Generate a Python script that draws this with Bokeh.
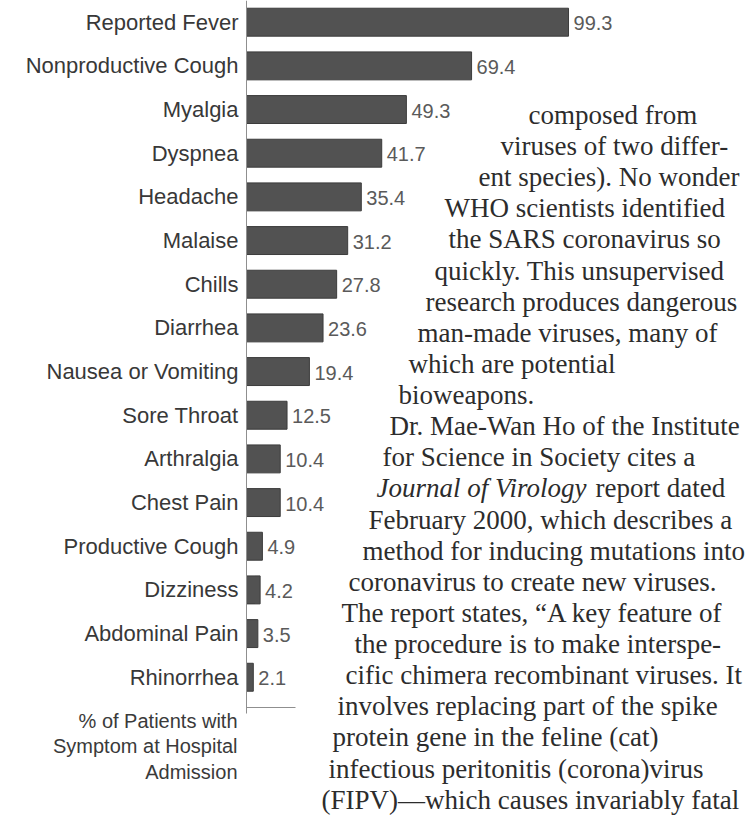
from bokeh.plotting import figure
from bokeh.models import ColumnDataSource, LinearAxis, FixedTicker, Range1d, Label
from bokeh.embed import file_html
from bokeh.resources import INLINE
from bokeh.core.properties import value

# ---------------- data ----------------
categories = ["Reported Fever", "Nonproductive Cough", "Myalgia", "Dyspnea",
              "Headache", "Malaise", "Chills", "Diarrhea", "Nausea or Vomiting",
              "Sore Throat", "Arthralgia", "Chest Pain", "Productive Cough",
              "Dizziness", "Abdominal Pain", "Rhinorrhea"]
percent = [99.3, 69.4, 49.3, 41.7, 35.4, 31.2, 27.8, 23.6, 19.4,
           12.5, 10.4, 10.4, 4.9, 4.2, 3.5, 2.1]
axis_note = ["% of Patients with", "Symptom at Hospital", "Admission"]

body_lines = [
    "composed from",
    "viruses of two differ-",
    "ent species). No wonder",
    "WHO scientists identified",
    "the SARS coronavirus so",
    "quickly. This unsupervised",
    "research produces dangerous",
    "man-made viruses, many of",
    "which are potential",
    "bioweapons.",
    "Dr. Mae-Wan Ho of the Institute",
    "for Science in Society cites a",
    ("Journal of Virology", "report dated"),
    "February 2000, which describes a",
    "method for inducing mutations into",
    "coronavirus to create new viruses.",
    "The report states, \u201cA key feature of",
    "the procedure is to make interspe-",
    "cific chimera recombinant viruses. It",
    "involves replacing part of the spike",
    "protein gene in the feline (cat)",
    "infectious peritonitis (corona)virus",
    "(FIPV)\u2014which causes invariably fatal",
]

# ---------------- layout ----------------
W, H = 746, 816
AX = 246.0        # pixel position of the value axis
PX = 3.243        # pixels per percent
ROW0 = 21.7       # pixel centre of the first row
PITCH = 43.67     # pixels between rows

def dx(X):   # pixel -> data x
    return (X - AX) / PX

def dy(Y):   # pixel -> data y
    return (Y - ROW0) / PITCH

body_left = [528, 500, 478, 444, 448, 434, 425, 417, 408, 398, 389, 382, 376,
             368, 362, 348, 341, 354, 345, 337, 332, 328, 321]
BODY_BASE0, BODY_PITCH = 114.5, 31.12

p = figure(width=W, height=H,
           x_range=Range1d(dx(0), dx(W)),
           y_range=Range1d(dy(H), dy(0)),
           output_backend="svg", toolbar_location=None,
           x_axis_location=None, y_axis_location=None,
           min_border=0, outline_line_color=None,
           background_fill_color="white", border_fill_color="white")
p.grid.visible = False

n = len(categories)
src = ColumnDataSource(dict(
    y=list(range(n)),
    pct=percent,
    lbl=[f"{v:.1f}" for v in percent],
))

p.hbar(y="y", left=0, right="pct", height=0.64, source=src,
       fill_color="#525252", line_color="#3c3c3c", line_width=1)

p.text(x="pct", y="y", text="lbl", source=src, x_offset=5, y_offset=1,
       text_align="left", text_baseline="middle",
       text_font=value("Liberation Sans"), text_font_size="20px",
       text_color="#5a5a5a")

# category axis (vertical line at 0)
yax = LinearAxis(fixed_location=0,
                 bounds=(dy(0), dy(713)),
                 ticker=FixedTicker(ticks=list(range(n))),
                 major_label_overrides={i: c for i, c in enumerate(categories)},
                 major_tick_in=0, major_tick_out=0,
                 major_tick_line_color=None, minor_tick_line_color=None,
                 major_label_standoff=8,
                 axis_line_color="#8f8f8f", axis_line_width=1,
                 major_label_text_font="Liberation Sans",
                 major_label_text_font_size="22px",
                 major_label_text_color="#383838")
p.add_layout(yax, "left")

# short value-axis baseline
xax = LinearAxis(fixed_location=dy(707), bounds=(0, 15.1),
                 ticker=FixedTicker(ticks=[]),
                 major_tick_line_color=None, minor_tick_line_color=None,
                 major_label_text_alpha=0,
                 axis_line_color="#8f8f8f", axis_line_width=1)
p.add_layout(xax, "below")

# axis note
for i, t in enumerate(axis_note):
    p.add_layout(Label(x=dx(237), y=dy(720 + i * 25.5), text=t,
                       text_align="right", text_baseline="alphabetic",
                       text_font="Liberation Sans", text_font_size="20px",
                       text_color="#3a3a3a"))

# running text
for i, (line, left) in enumerate(zip(body_lines, body_left)):
    base = BODY_BASE0 + i * BODY_PITCH
    common = dict(y=dy(base), text_align="left", text_baseline="alphabetic",
                  text_font="Liberation Serif", text_font_size="27px",
                  text_color="#2c2c2c")
    if isinstance(line, tuple):
        p.add_layout(Label(x=dx(left), text=line[0], text_font_style="italic", **common))
        p.add_layout(Label(x=dx(left + 219), text=line[1], **common))
    else:
        p.add_layout(Label(x=dx(left), text=line, **common))

open("out.html", "w").write(file_html(p, INLINE))
